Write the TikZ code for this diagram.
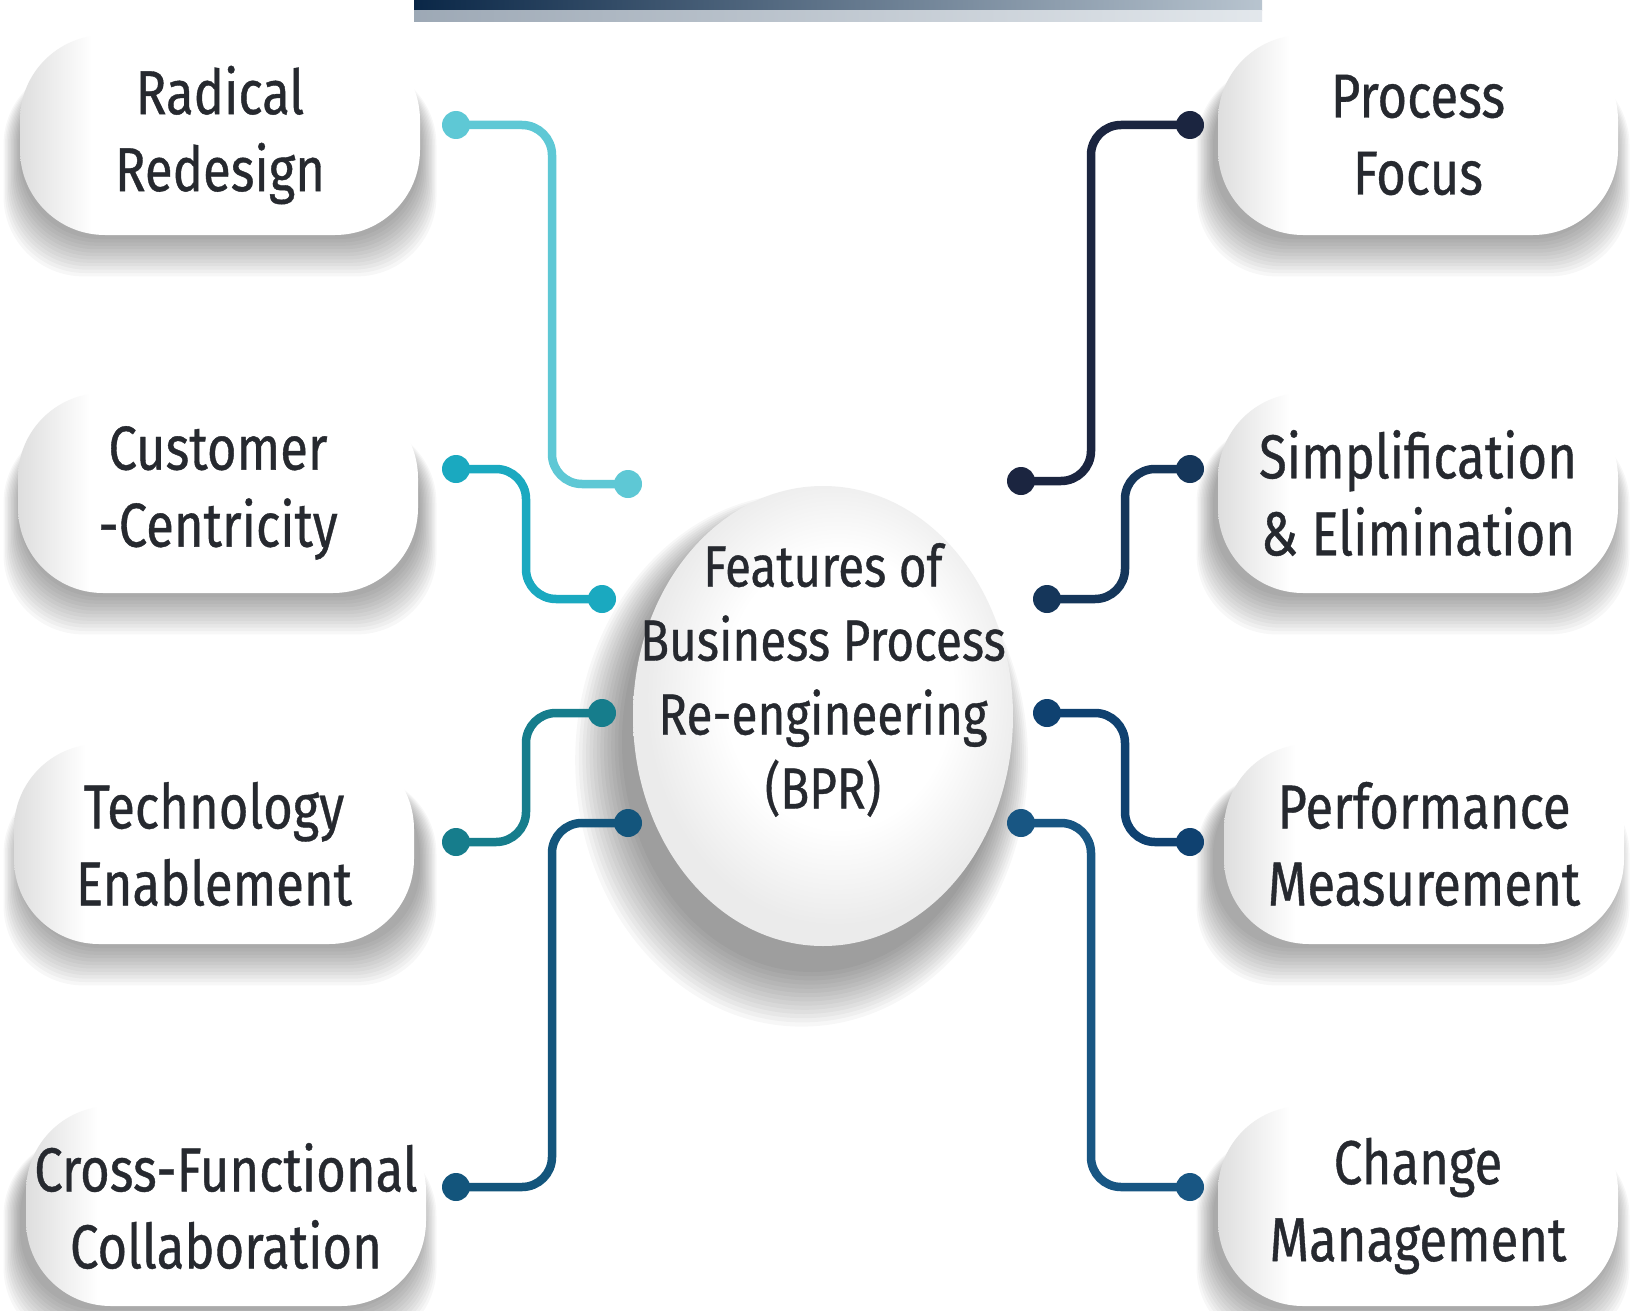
\documentclass[tikz,border=0pt]{standalone}
\usepackage{fontspec}
\setmainfont{Fira Sans}[FakeStretch=0.82, FakeBold=0.6]
\usetikzlibrary{shapes.geometric}
\definecolor{txt}{HTML}{26292F}
\definecolor{cA}{HTML}{5EC8D5}
\definecolor{cB}{HTML}{1AA9C0}
\definecolor{cC}{HTML}{167D8C}
\definecolor{cD}{HTML}{13557C}
\definecolor{cE}{HTML}{1B2540}
\definecolor{cF}{HTML}{15365A}
\definecolor{cG}{HTML}{0F4170}
\definecolor{cH}{HTML}{185683}
\definecolor{barL}{HTML}{0A2747}
\definecolor{barR}{HTML}{B8C4CF}
\pgfdeclarehorizontalshading{pillshade}{100bp}{color(0bp)=(black!13); color(25bp)=(black!13); color(34bp)=(white); color(100bp)=(white)}
\pgfdeclareradialshading{orbshade}{\pgfpoint{3bp}{4bp}}{color(0bp)=(white); color(15bp)=(white); color(25bp)=(black!8); color(50bp)=(black!8)}
\newcommand\pillshadow[2]{%
  \foreach \k in {0,...,11}{%
    \fill[black, opacity=0.03, rounded corners=80pt] ({#1-200-\k*1.5},{#2-70}) rectangle ({#1+200+\k*1.5},{#2+104+\k*3.4});
  }}
\tikzset{
  pill/.style={rectangle, rounded corners=85pt, minimum width=400pt, minimum height=200pt, shading=pillshade, align=center, text=txt, font=\fontsize{62}{77}\selectfont, inner sep=0pt},
  link/.style={line width=8.5pt, rounded corners=30pt},
  dot/.style={circle, inner sep=0pt, minimum size=28pt},
}
\begin{document}
\begin{tikzpicture}[x=1pt, y=-1pt]
\useasboundingbox (0,0) rectangle (1633,1311);
\fill[white] (0,0) rectangle (1633,1311);
% top bar
\shade[left color=barL, right color=barR] (414,0) rectangle (1262,11);
\shade[left color=barL!40, right color=barR!40] (414,11) rectangle (1262,22);
% pill shadows
\pillshadow{220}{135}
\pillshadow{220}{493}
\pillshadow{220}{844}
\pillshadow{220}{1206}
\pillshadow{1413}{135}
\pillshadow{1413}{493}
\pillshadow{1413}{844}
\pillshadow{1413}{1206}
% pills
\node[pill] (p1) at (220,135) {Radical\\Redesign};
\node[pill] (p2) at (218,493) {Customer\\-Centricity};
\node[pill] (p3) at (214,844) {Technology\\Enablement};
\node[pill] (p4) at (226,1206) {Cross-Functional\\Collaboration};
\node[pill] (p5) at (1418,135) {Process\\Focus};
\node[pill] (p6) at (1418,493) {Simplification\\\& Elimination};
\node[pill] (p7) at (1424,844) {Performance\\Measurement};
\node[pill] (p8) at (1418,1206) {Change\\Management};
% centre
\foreach \k [evaluate=\k as \rx using 190+\k*2.8, evaluate=\k as \ry using 230+\k*2.8] in {0,...,13}
  \fill[black, opacity=0.03] ({812-\k*0.8},{742+\k*1.4}) ellipse [x radius=\rx pt, y radius=\ry pt];
\node[ellipse, minimum width=380pt, minimum height=460pt, shading=orbshade, inner sep=0pt] (ctr) at (823,716) {};
\node[align=center, text=txt, font=\fontsize{58}{74}\selectfont] (ctrtxt) at (823,680) {Features of\\Business Process\\Re-engineering\\(BPR)};
% dots
\node[dot, fill=cA] (a1) at (456,125) {};
\node[dot, fill=cA] (b1) at (628,484) {};
\node[dot, fill=cB] (a2) at (456,469) {};
\node[dot, fill=cB] (b2) at (602,599) {};
\node[dot, fill=cC] (a3) at (456,842) {};
\node[dot, fill=cC] (b3) at (602,713) {};
\node[dot, fill=cD] (a4) at (456,1187) {};
\node[dot, fill=cD] (b4) at (628,823) {};
\node[dot, fill=cE] (a5) at (1190,125) {};
\node[dot, fill=cE] (b5) at (1021,481) {};
\node[dot, fill=cF] (a6) at (1190,469) {};
\node[dot, fill=cF] (b6) at (1047,599) {};
\node[dot, fill=cG] (a7) at (1190,842) {};
\node[dot, fill=cG] (b7) at (1047,713) {};
\node[dot, fill=cH] (a8) at (1190,1187) {};
\node[dot, fill=cH] (b8) at (1021,823) {};
% connectors
\draw[link, cA] (a1.center) -- ++(96,0) |- (b1.center);
\draw[link, cB] (a2.center) -- ++(70,0) |- (b2.center);
\draw[link, cC] (a3.center) -- ++(70,0) |- (b3.center);
\draw[link, cD] (a4.center) -- ++(96,0) |- (b4.center);
\draw[link, cE] (a5.center) -- ++(-99,0) |- (b5.center);
\draw[link, cF] (a6.center) -- ++(-65,0) |- (b6.center);
\draw[link, cG] (a7.center) -- ++(-65,0) |- (b7.center);
\draw[link, cH] (a8.center) -- ++(-99,0) |- (b8.center);
\end{tikzpicture}
\end{document}
